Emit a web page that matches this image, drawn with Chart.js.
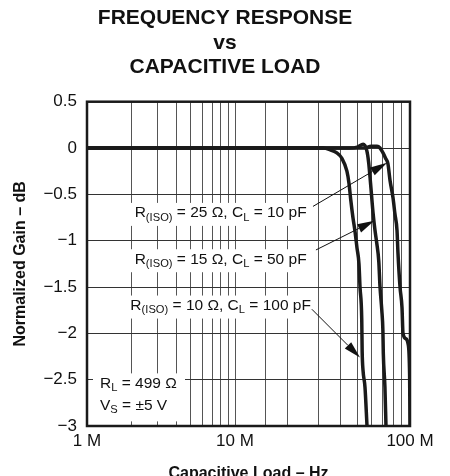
<!DOCTYPE html>
<html lang="en">
<head>
  <meta charset="UTF-8">
  <title>Frequency Response vs Capacitive Load</title>
  <script src="https://cdn.jsdelivr.net/npm/chart.js@4"></script>
  <style>
    html, body {
      margin: 0;
      padding: 0;
      background: #fff;
    }
    .chart-box {
      width: 450px;
      height: 476px;
    }
  </style>
</head>
<body>
  <div class="chart-box">
    <canvas id="freqChart" width="450" height="476"></canvas>
  </div>

  <script>
    // values: frequency in MHz, normalized gain in dB
    const freq10pF = [1, 55, 60, 64.8, 67.4, 70, 72.5, 74.8, 76.9, 80, 82, 84.3, 85.4, 87.7, 90, 91.2, 95, 97.4, 99.5, 100];
    const gain10pF = [0, 0, 0.02, 0.02, 0, -0.05, -0.11, -0.17, -0.35, -0.54, -0.71, -0.89, -1.14, -1.5, -1.72, -2.0, -2.06, -2.11, -2.45, -3.0];

    const freq50pF = [1, 45, 50, 54, 56.5, 58, 59.5, 61.5, 63, 64.5, 66.3, 67.4, 69, 70, 70.4, 71.9, 72.9];
    const gain50pF = [0, 0, 0.01, 0.04, -0.02, -0.15, -0.38, -0.7, -0.88, -1.02, -1.22, -1.5, -1.75, -1.97, -2.22, -2.58, -3.0];

    const freq100pF = [1, 32, 35, 38, 40.8, 43.6, 44.8, 45.8, 47.2, 48.5, 49.8, 51.1, 51.8, 53, 53.3, 53.9, 55.3, 56.8];
    const gain100pF = [0, 0, -0.02, -0.05, -0.11, -0.25, -0.38, -0.55, -0.75, -0.9, -1.08, -1.25, -1.5, -1.85, -2.2, -2.4, -2.58, -3.0];

    const yTicks = [0.5, 0, -0.5, -1, -1.5, -2, -2.5, -3];
    const xLabelled = [1, 10, 100];

    const curveNotes = [
      { r: '25 Ω', c: '10 pF' },
      { r: '15 Ω', c: '50 pF' },
      { r: '10 Ω', c: '100 pF' }
    ];
    const loadRes = '499 Ω';
    const supply = '±5 V';

    // the datasheet axis gives the 1M-10M decade less room than 10M-100M
    class DatasheetLogScale extends Chart.LogarithmicScale {
      getPixelForValue(value) {
        if (value === null || value === undefined || isNaN(value) || value <= 0) return NaN;
        const lo = Math.log10(this.min);
        const span = Math.log10(this.max) - lo;
        const share = this.options.firstDecadeShare;
        const d = Math.log10(value) - lo;
        const dec = d <= 1 ? d * share : share + (d - 1) * (1 - share) / (span - 1);
        return this.getPixelForDecimal(dec);
      }
      getValueForPixel(pixel) {
        const lo = Math.log10(this.min);
        const span = Math.log10(this.max) - lo;
        const share = this.options.firstDecadeShare;
        const dec = this.getDecimalForPixel(pixel);
        const d = dec <= share ? dec / share : 1 + (dec - share) * (span - 1) / (1 - share);
        return Math.pow(10, lo + d);
      }
    }
    DatasheetLogScale.id = 'datasheetLog';
    DatasheetLogScale.defaults = Chart.LogarithmicScale.defaults;
    Chart.register(DatasheetLogScale);

    const FONT = "'Liberation Sans', Arial, Helvetica, sans-serif";

    function toPoints(freq, gain) {
      return freq.map((f, i) => ({ x: f, y: gain[i] }));
    }

    function richWidth(ctx, parts, size) {
      let w = 0;
      parts.forEach(p => {
        ctx.font = (p.sub ? size * 0.72 : size) + 'px ' + FONT;
        w += ctx.measureText(p.t).width;
      });
      return w;
    }

    function drawRich(ctx, parts, x, y, size) {
      let cx = x;
      ctx.textBaseline = 'middle';
      ctx.textAlign = 'left';
      parts.forEach(p => {
        ctx.font = (p.sub ? size * 0.72 : size) + 'px ' + FONT;
        ctx.fillText(p.t, cx, p.sub ? y + size * 0.3 : y);
        cx += ctx.measureText(p.t).width;
      });
    }

    function drawArrow(ctx, x1, y1, x2, y2) {
      const ang = Math.atan2(y2 - y1, x2 - x1);
      const len = 17, half = 4.5;
      ctx.beginPath();
      ctx.moveTo(x1, y1);
      ctx.lineTo(x2 - Math.cos(ang) * len, y2 - Math.sin(ang) * len);
      ctx.stroke();
      ctx.beginPath();
      ctx.moveTo(x2, y2);
      ctx.lineTo(x2 - Math.cos(ang) * len - Math.sin(ang) * half, y2 - Math.sin(ang) * len + Math.cos(ang) * half);
      ctx.lineTo(x2 - Math.cos(ang) * len + Math.sin(ang) * half, y2 - Math.sin(ang) * len - Math.cos(ang) * half);
      ctx.closePath();
      ctx.fill();
    }

    function noteParts(n) {
      return [
        { t: 'R' }, { t: '(ISO)', sub: true },
        { t: ' = ' + n.r + ', C' }, { t: 'L', sub: true },
        { t: ' = ' + n.c }
      ];
    }

    const notesPlugin = {
      id: 'notes',
      beforeDatasetsDraw(chart, args, opts) {
        // white patches behind the notes, over the grid
        const { ctx, scales: { x, y } } = chart;
        ctx.save();
        ctx.fillStyle = '#fff';
        curveNotes.forEach((n, i) => {
          const w = richWidth(ctx, noteParts(n), opts.size);
          const cx = x.getPixelForValue(opts.noteAt[i].x);
          const cy = y.getPixelForValue(opts.noteAt[i].y);
          ctx.fillRect(cx - w / 2 - 5, cy - 10, w + 10, 23);
        });
        const bx = x.getPixelForValue(opts.condAt.x);
        const by = y.getPixelForValue(opts.condAt.y);
        ctx.fillRect(bx - 7, by - 10, 92, 48);
        ctx.restore();
      },
      afterDatasetsDraw(chart, args, opts) {
        const { ctx, chartArea: a, scales: { x, y } } = chart;
        ctx.save();
        ctx.fillStyle = '#111';
        ctx.strokeStyle = '#111';
        ctx.lineWidth = 1;
        curveNotes.forEach((n, i) => {
          const parts = noteParts(n);
          const w = richWidth(ctx, parts, opts.size);
          const cx = x.getPixelForValue(opts.noteAt[i].x);
          const cy = y.getPixelForValue(opts.noteAt[i].y);
          drawRich(ctx, parts, cx - w / 2, cy, opts.size);
          const ar = opts.arrows[i];
          drawArrow(ctx,
            x.getPixelForValue(ar.from.x), y.getPixelForValue(ar.from.y),
            x.getPixelForValue(ar.to.x), y.getPixelForValue(ar.to.y));
        });
        const bx = x.getPixelForValue(opts.condAt.x);
        const by = y.getPixelForValue(opts.condAt.y);
        drawRich(ctx, [{ t: 'R' }, { t: 'L', sub: true }, { t: ' = ' + loadRes }], bx, by, opts.size);
        drawRich(ctx, [{ t: 'V' }, { t: 'S', sub: true }, { t: ' = ' + supply }], bx, by + 22, opts.size);

        // heavy frame round the plot
        ctx.lineWidth = 2.5;
        ctx.strokeStyle = '#1a1a1a';
        ctx.strokeRect(a.left, a.top, a.right - a.left, a.bottom - a.top);
        ctx.restore();
      }
    };

    const lineStyle = {
      borderColor: '#1a1a1a',
      borderWidth: 3.5,
      pointRadius: 0,
      fill: false,
      cubicInterpolationMode: 'monotone'
    };

    new Chart(document.getElementById('freqChart'), {
      type: 'line',
      data: {
        datasets: [
          { label: '10 pF', data: toPoints(freq10pF, gain10pF), ...lineStyle },
          { label: '50 pF', data: toPoints(freq50pF, gain50pF), ...lineStyle },
          { label: '100 pF', data: toPoints(freq100pF, gain100pF), ...lineStyle }
        ]
      },
      options: {
        responsive: false,
        animation: false,
        layout: { padding: 0 },
        plugins: {
          legend: { display: false },
          tooltip: { enabled: false },
          title: {
            display: true,
            text: ['FREQUENCY RESPONSE', 'vs', 'CAPACITIVE LOAD'],
            color: '#111',
            font: { family: FONT, size: 21, weight: 'bold', lineHeight: 1.17 },
            padding: { top: 6, bottom: 22 }
          },
          notes: {
            size: 15.5,
            noteAt: [{ x: 8, y: -0.7 }, { x: 8, y: -1.2 }, { x: 8, y: -1.7 }],
            arrows: [
              { from: { x: 27.9, y: -0.63 }, to: { x: 74, y: -0.16 } },
              { from: { x: 29, y: -1.1 }, to: { x: 62.5, y: -0.785 } },
              { from: { x: 27.5, y: -1.74 }, to: { x: 51.8, y: -2.26 } }
            ],
            condAt: { x: 1.224, y: -2.54 }
          }
        },
        scales: {
          x: {
            type: 'datasheetLog',
            min: 1,
            max: 100,
            firstDecadeShare: 148 / 323,
            border: { display: false },
            grid: { color: '#555', lineWidth: 1, drawTicks: false },
            ticks: {
              autoSkip: false,
              maxRotation: 0,
              padding: 5,
              color: '#111',
              font: { family: FONT, size: 17 },
              callback: (v) => xLabelled.includes(v) ? v + ' M' : ''
            },
            title: {
              display: true,
              text: 'Capacitive Load – Hz',
              color: '#111',
              font: { family: FONT, size: 16, weight: 'bold' },
              padding: { top: 0, bottom: -7 }
            },
            afterFit: (scale) => { scale.height = 50; }
          },
          y: {
            type: 'linear',
            min: -3,
            max: 0.5,
            border: { display: false },
            grid: { color: '#333', lineWidth: 1, drawTicks: false },
            afterBuildTicks: (scale) => { scale.ticks = yTicks.map(v => ({ value: v })); },
            ticks: {
              padding: 10,
              color: '#111',
              font: { family: FONT, size: 17 },
              callback: (v) => v < 0 ? '\u2212' + Math.abs(v) : String(v)
            },
            title: {
              display: true,
              text: 'Normalized Gain – dB',
              color: '#111',
              font: { family: FONT, size: 16, weight: 'bold' },
              padding: { top: 11, bottom: 0 }
            },
            afterFit: (scale) => { scale.width = 87; }
          },
          // empty right-hand axis: keeps the right margin without shifting the title
          yRight: {
            type: 'linear',
            position: 'right',
            display: true,
            border: { display: false },
            grid: { display: false },
            ticks: { display: false },
            afterFit: (scale) => { scale.width = 40; }
          }
        }
      },
      plugins: [notesPlugin]
    });
  </script>
</body>
</html>
